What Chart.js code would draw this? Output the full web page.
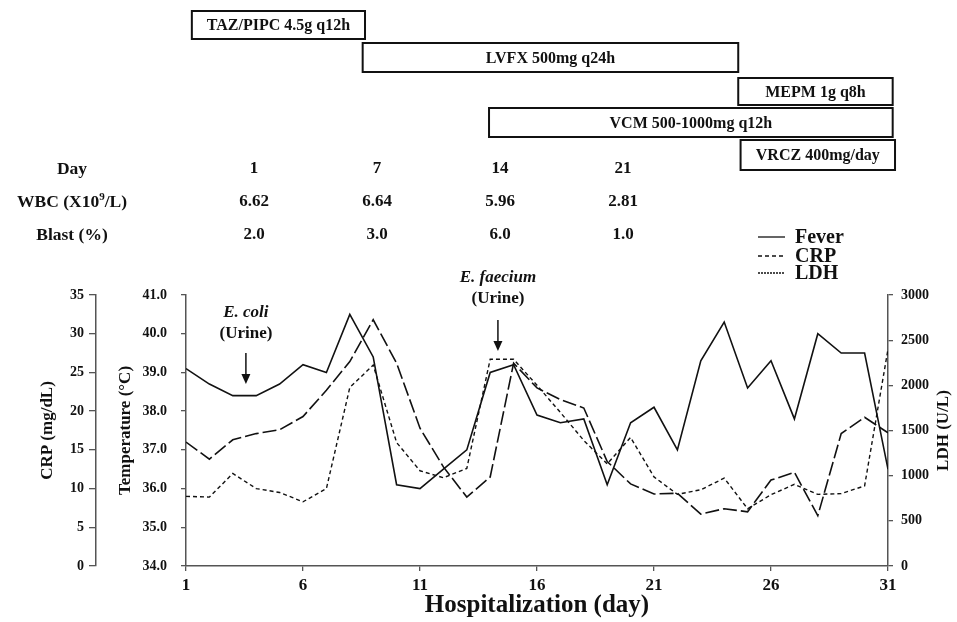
<!DOCTYPE html>
<html lang="en">
<head>
<meta charset="UTF-8">
<title>Fever, CRP and LDH course</title>
<script src="https://cdn.jsdelivr.net/npm/chart.js"></script>
<style>
  body { margin: 0; background: #fff; }
  #wrap { position: relative; width: 957px; height: 622px; }
</style>
</head>
<body>
<div id="wrap"><canvas id="course"></canvas></div>

<script>
// hospital days and the three series
const days = [1, 2, 3, 4, 5, 6, 7, 8, 9, 10, 11, 12, 13, 14, 15, 16, 17, 18, 19, 20, 21, 22, 23, 24, 25, 26, 27, 28, 29, 30, 31];
const dayTicks = [1, 6, 11, 16, 21, 26, 31];
const fever = [39.1, 38.7, 38.4, 38.4, 38.7, 39.2, 39.0, 40.5, 39.4, 36.1, 36.0, 36.5, 37.0, 39.0, 39.2, 37.9, 37.7, 37.8, 36.1, 37.7, 38.1, 37.0, 39.3, 40.3, 38.6, 39.3, 37.8, 40.0, 39.5, 39.5, 36.5];
const crp = [16.0, 13.8, 16.3, 17.1, 17.6, 19.3, 22.7, 26.4, 31.8, 26.2, 17.8, 12.8, 8.9, 11.5, 26.2, 23.0, 21.5, 20.4, 13.5, 10.6, 9.3, 9.4, 6.7, 7.4, 7.0, 11.1, 12.1, 6.5, 17.1, 19.2, 17.2];
const ldh = [771, 763, 1024, 857, 814, 711, 857, 1976, 2224, 1367, 1054, 977, 1080, 2289, 2289, 2000, 1700, 1390, 1130, 1423, 986, 793, 844, 973, 634, 789, 904, 793, 801, 887, 2400];

// antibiotic courses (day from / day to)
const drugNames = ['TAZ/PIPC 4.5g q12h', 'LVFX 500mg q24h', 'MEPM 1g q8h', 'VCM 500-1000mg q12h', 'VRCZ 400mg/day'];
const drugStart = [1.25, 8.55, 24.6, 13.95, 24.7];
const drugEnd = [8.65, 24.6, 31.2, 31.2, 31.3];

// lab table
const tableRows = ['Day', 'WBC (X10^9/L)', 'Blast (%)'];
const tableDays = ['1', '7', '14', '21'];
const wbc = ['6.62', '6.64', '5.96', '2.81'];
const blast = ['2.0', '3.0', '6.0', '1.0'];

// culture results
const cultureNames = ['E. coli', 'E. faecium'];
const cultureSite = ['(Urine)', '(Urine)'];
const cultureDay = [3.56, 14.33];

const FONT = '"Liberation Serif", "Times New Roman", serif';
const INK = '#111';

Chart.defaults.font.family = FONT;
Chart.defaults.font.weight = 'bold';
Chart.defaults.color = INK;

function superText(ctx, text, cx, cy, size) {
  // draws "a^b/c" with b raised, centered on cx
  const parts = text.split(/\^(\d)/);
  const big = 'bold ' + size + 'px ' + FONT;
  const small = 'bold ' + Math.round(size * 0.62) + 'px ' + FONT;
  let w = 0;
  parts.forEach((p, i) => { ctx.font = i % 2 ? small : big; w += ctx.measureText(p).width; });
  let px = cx - w / 2;
  ctx.textAlign = 'left';
  parts.forEach((p, i) => {
    ctx.font = i % 2 ? small : big;
    ctx.fillText(p, px, i % 2 ? cy - 5 : cy);
    px += ctx.measureText(p).width;
  });
  ctx.textAlign = 'center';
}

const overlay = {
  id: 'overlay',
  afterDraw(chart) {
    const { ctx, scales: { x } } = chart;
    ctx.save();
    ctx.fillStyle = INK;
    ctx.strokeStyle = INK;
    ctx.textAlign = 'center';
    ctx.textBaseline = 'middle';

    // drug boxes
    const boxTop = [11, 43, 78, 108, 140];
    const boxH = [28, 29, 27, 29, 30];
    ctx.lineWidth = 2;
    ctx.font = 'bold 16px ' + FONT;
    drugNames.forEach((name, i) => {
      const x0 = x.getPixelForValue(drugStart[i]);
      const x1 = x.getPixelForValue(drugEnd[i]);
      ctx.strokeRect(x0, boxTop[i], x1 - x0, boxH[i]);
      ctx.fillText(name, (x0 + x1) / 2, boxTop[i] + boxH[i] / 2 + 1);
    });

    // lab table
    const rowY = [169, 202, 235];
    const colX = [254, 377, 500, 623];
    tableRows.forEach((r, i) => superText(ctx, r, 72, rowY[i], 17.5));
    ctx.font = 'bold 17px ' + FONT;
    [tableDays, wbc, blast].forEach((row, i) => {
      row.forEach((v, j) => ctx.fillText(v, colX[j], rowY[i]));
    });

    // legend
    const legY = [237, 256, 273];
    const legNames = ['Fever', 'CRP', 'LDH'];
    const legDash = [[], [4, 3], [2, 1]];
    legNames.forEach((n, i) => {
      ctx.beginPath();
      ctx.lineWidth = 1.3;
      ctx.setLineDash(legDash[i]);
      ctx.moveTo(758, legY[i]);
      ctx.lineTo(785, legY[i]);
      ctx.stroke();
      ctx.setLineDash([]);
      ctx.font = 'bold 20px ' + FONT;
      ctx.textAlign = 'left';
      ctx.fillText(n, 795, legY[i] + 1);
      ctx.textAlign = 'center';
    });

    // culture annotations with arrows
    const nameY = [312, 277];
    const arrowTop = [353, 320];
    const arrowTip = [384, 351];
    cultureNames.forEach((n, i) => {
      const ax = x.getPixelForValue(cultureDay[i]);
      ctx.font = 'italic bold 17px ' + FONT;
      ctx.fillText(n, ax, nameY[i] + 1);
      ctx.font = 'bold 17px ' + FONT;
      ctx.fillText(cultureSite[i], ax, nameY[i] + 22);
      ctx.lineWidth = 1.5;
      ctx.beginPath();
      ctx.moveTo(ax, arrowTop[i]);
      ctx.lineTo(ax, arrowTip[i] - 8);
      ctx.stroke();
      ctx.beginPath();
      ctx.moveTo(ax - 4.5, arrowTip[i] - 10);
      ctx.lineTo(ax + 4.5, arrowTip[i] - 10);
      ctx.lineTo(ax, arrowTip[i]);
      ctx.closePath();
      ctx.fill();
    });

    // right axis title reads bottom-to-top
    const ldhScale = chart.scales.ldh;
    ctx.translate(944, (ldhScale.top + ldhScale.bottom) / 2);
    ctx.rotate(-Math.PI / 2);
    ctx.font = 'bold 17px ' + FONT;
    ctx.fillText('LDH (U/L)', 0, 0);
    ctx.restore();
  }
};

const axisGrid = { drawOnChartArea: false, tickLength: 5, color: '#555', lineWidth: 1.3 };
const axisBorder = { color: '#555', width: 1.5 };

new Chart(document.getElementById('course'), {
  type: 'line',
  data: {
    labels: days,
    datasets: [
      { label: 'Fever', data: fever, yAxisID: 'temp', borderColor: INK, borderWidth: 1.6 },
      { label: 'CRP', data: crp, yAxisID: 'crp', borderColor: INK, borderWidth: 1.6, borderDash: [14, 4] },
      { label: 'LDH', data: ldh, yAxisID: 'ldh', borderColor: INK, borderWidth: 1.4, borderDash: [4, 3] }
    ]
  },
  options: {
    responsive: true,
    maintainAspectRatio: false,
    animation: false,
    elements: { point: { radius: 0 }, line: { tension: 0 } },
    layout: { padding: { top: 295, left: 0, right: 0, bottom: 0 } },
    plugins: { legend: { display: false }, tooltip: { enabled: false } },
    scales: {
      x: {
        type: 'linear', min: 1, max: 31,
        afterBuildTicks: s => { s.ticks = dayTicks.map(v => ({ value: v })); },
        afterFit: s => { s.height = 56; },
        grid: axisGrid, border: axisBorder,
        ticks: { padding: 4, font: { size: 17 }, maxRotation: 0 },
        title: { display: true, text: 'Hospitalization (day)', font: { size: 25 }, padding: { top: 0, bottom: 1 } }
      },
      crp: {
        position: 'left', weight: 1, min: 0, max: 35,
        afterFit: s => { s.width = 96; },
        grid: { drawOnChartArea: false, tickLength: 7, color: '#555', lineWidth: 1.3 }, border: axisBorder,
        ticks: { stepSize: 5, padding: 5, font: { size: 14 } },
        title: { display: true, text: 'CRP (mg/dL)', font: { size: 17 }, padding: { top: 37, bottom: 0 } }
      },
      temp: {
        position: 'left', weight: 0, min: 34, max: 41,
        afterFit: s => { s.width = 90; },
        grid: axisGrid, border: axisBorder,
        ticks: { stepSize: 1, padding: 14, font: { size: 14 }, callback: v => v.toFixed(1) },
        title: { display: true, text: 'Temperature (\u00B0C)', font: { size: 17 }, padding: { top: 19, bottom: 0 } }
      },
      ldh: {
        position: 'right', min: 0, max: 3000,
        afterFit: s => { s.width = 69; },
        grid: axisGrid, border: axisBorder,
        ticks: { stepSize: 500, padding: 8, font: { size: 14 }, callback: v => String(v) }
      }
    }
  },
  plugins: [overlay]
});
</script>
</body>
</html>
